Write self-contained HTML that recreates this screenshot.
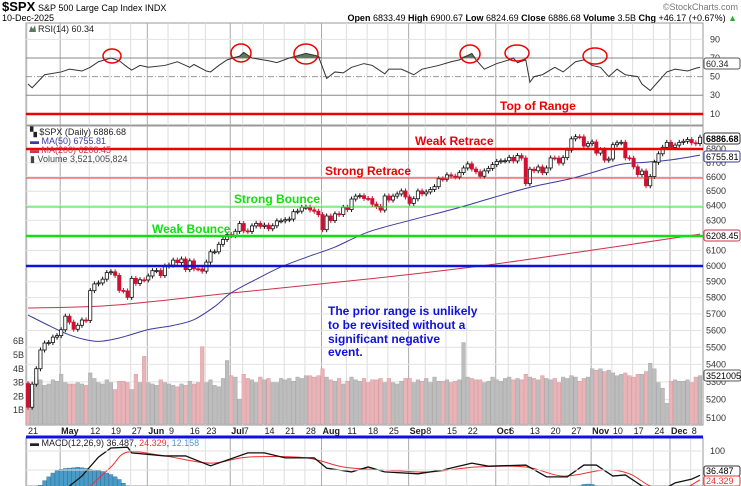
<!DOCTYPE html>
<html><head><meta charset="utf-8"><style>
body{margin:0;background:#fff;}
svg{display:block;font-family:"Liberation Sans",sans-serif;}
</style></head><body>
<svg id="c" width="741" height="486" viewBox="0 0 741 486">
<rect x="0" y="0" width="741" height="486" fill="#fff"/>
<defs><clipPath id="mclip"><rect x="26" y="438" width="677" height="48"/></clipPath></defs>
<g>
<text x="2" y="11" font-size="13" font-weight="bold">$SPX</text>
<text x="38" y="11" font-size="9">S&amp;P 500 Large Cap Index  INDX</text>
<text x="738" y="10" font-size="9" fill="#777" text-anchor="end">©StockCharts.com</text>
<text x="2" y="21" font-size="9">10-Dec-2025</text>
<text x="737" y="21" font-size="9" text-anchor="end"><tspan font-weight="bold">Open</tspan> 6833.49 <tspan font-weight="bold">High</tspan> 6900.67 <tspan font-weight="bold">Low</tspan> 6824.69 <tspan font-weight="bold">Close</tspan> 6886.68 <tspan font-weight="bold">Volume</tspan> 3.5B <tspan font-weight="bold">Chg</tspan> +46.17 (+0.67%) <tspan fill="#3a3">▲</tspan></text>
</g>
<g id="grid"></g>
<g id="rsi"></g>
<g id="main"></g>
<g id="macd" clip-path="url(#mclip)"></g>
<g id="macdax"></g>
<g id="ann"></g>
</svg>
<script>
const closes=[5158,5287,5375,5484,5525,5528,5560,5569,
5604,5686,5650,5607,5631,5663,5660,5844,5886,5892,5916,5958,5963,5940,5845,5842,5802,5921,5889,5912,5911,
5936,5970,5971,5939,6000,6006,6038,6022,6045,5977,6033,5982,5981,5967,6025,6092,6092,6141,6173,6205,
6198,6227,6279,6230,6226,6263,6280,6260,6268,6244,6264,6297,6297,6305,6309,6359,6363,6389,6390,6371,6362,6339,
6238,6330,6299,6345,6340,6389,6374,6446,6466,6469,6450,6449,6411,6395,6370,6467,6439,6466,6481,6502,6460,
6416,6448,6502,6482,6495,6512,6532,6587,6584,6615,6606,6600,6631,6664,6693,6656,6637,6605,6643,6661,6688,
6711,6715,6716,6740,6714,6753,6735,6553,6655,6644,6671,6630,6664,6736,6735,6699,6738,6792,6875,6891,6890,6822,6840,
6852,6771,6796,6720,6728,6832,6846,6850,6737,6734,6672,6617,6642,6538,6603,6705,6766,6813,6849,
6812,6829,6849,6857,6870,6846,6840,6887];
const firstOpen=5290;
const volumes=[3.0,2.6,3.4,3.2,2.8,2.9,3.2,3.1,
3.6,3.0,2.9,2.9,3.0,2.9,2.8,3.7,3.3,3.0,2.9,3.2,3.0,2.5,3.1,3.1,3.0,2.5,3.6,3.0,4.9,
3.0,2.9,2.8,3.2,3.0,2.9,2.8,2.7,2.9,2.8,3.1,2.9,3.0,5.6,3.0,3.2,2.8,2.7,3.3,4.6,
3.5,3.4,1.8,3.6,3.3,3.2,3.0,3.4,3.2,3.3,3.0,3.0,3.3,3.2,3.3,3.1,3.4,3.3,3.5,3.5,3.4,3.5,
4.0,3.4,3.2,3.1,3.3,2.9,3.1,3.4,3.2,3.1,3.3,3.0,3.2,3.2,3.3,3.0,3.3,3.0,2.9,3.1,3.3,
3.3,3.0,3.2,3.1,3.3,3.0,3.4,3.1,3.1,3.2,3.0,3.1,3.2,5.9,3.4,3.3,3.2,3.2,3.0,3.1,3.4,
3.2,3.1,3.3,3.4,3.2,3.3,3.2,3.6,3.4,3.3,3.2,3.5,3.3,3.2,3.3,3.0,3.4,3.3,3.5,3.4,3.1,3.3,3.4,
4.0,3.9,4.0,3.8,3.9,3.7,3.5,3.6,3.7,3.5,3.4,3.6,3.6,3.8,4.4,4.0,3.0,2.6,1.5,
3.1,3.2,3.1,3.1,3.2,3.0,3.4,3.5];
const ma50Idx=[0,5,9,13,17,22,29,35,40,45,49,55,61,68,74,82,92,103,112,121,131,137,143,149,155,162];
const ma50Val=[5693,5630,5583,5550,5535,5555,5605,5630,5665,5745,5830,5915,5994,6065,6123,6222,6300,6380,6455,6527,6589,6640,6690,6705,6722,6756];
const ma200Idx=[0,20,49,82,109,136,162];
const ma200Val=[5736,5752,5829,5917,6000,6103,6208];
const rsiIdx=[0,1,4,8,10,13,15,17,20,22,24,25,27,29,33,36,37,39,40,43,44,46,48,51,52,54,58,60,63,67,70,71,72,74,76,78,81,83,86,87,90,93,95,99,102,104,107,108,110,113,116,117,118,120,121,122,124,127,129,132,134,136,138,140,142,144,147,148,150,152,154,156,159,161,162];
const rsiVal=[42,38,52,55,58,56,60,66,70,67,60,57,62,60,62,66,64,60,63,56,55,62,68,72,76,70,67,65,70,75,72,60,48,55,54,60,64,62,53,58,58,52,58,62,66,68,75,68,58,64,68,70,65,68,44,50,52,60,55,66,68,62,60,50,58,52,50,42,35,45,55,58,56,59,60];
const macdIdx=[10,13,17,20,24,25,33,38,44,53,57,62,69,72,78,82,86,94,100,107,111,120,125,130,134,137,141,144,148,152,156,160,162];
const macdVal=[8,34,84,108,110,95,87,87,61,95,95,82,82,55,45,58,45,40,50,68,60,63,32,32,63,63,34,37,8,-8,16,26,36];
const sigIdx=[15,20,24,33,44,53,67,76,86,97,108,120,129,139,145,150,156,162];
const sigVal=[8,58,97,87,68,84,82,58,50,45,58,58,34,50,40,8,-8,24];
const histIdx=[3,4,5,6,7,8,9,10,11,12,13,14,15,16,17,18,19,20,21,22,23,24,52,53,54,106,107,108,133,134,135,136,137,157,158,159,160,161,162];
const histVal=[10,22,32,42,48,52,54,55,56,57,56,54,52,50,48,46,42,38,32,25,15,8,5,7,5,5,7,5,8,12,13,12,8,5,7,8,9,8,7];
const dateLabels=["21","May","12","19","27","Jun","9","16","23","Jul","7","14","21","28","Aug","11","18","25","Sep","8","15","22","Oct","6","13","20","27","Nov","10","17","24","Dec","8"];
const dateIdx=[0,8,15,20,25,29,34,39,43,49,52,57,62,67,71,77,82,87,92,96,101,106,113,116,121,126,131,136,141,146,151,155,160];
const priceTicks=[5100,5200,5300,5400,5500,5600,5700,5800,5900,6000,6100,6200,6300,6400,6500,6600,6700,6800];
const volTicks=[1,2,3,4,5,6];
const rsiTicks=[10,30,50,70,90];
const macdTicks=[50,100];

const NS="http://www.w3.org/2000/svg";
const L=26,R=703,X0=28,X1=700;
const dx=(X1-X0)/(closes.length-1);
const xs=i=>X0+i*dx;
const yP=p=>266-934*Math.log(p/6000);
const yV=v=>424-13.8*v;
const yR=v=>58+(70-v)*0.93;
const yM=v=>489-0.38*v;
function el(tag,attrs,parent,txt){const e=document.createElementNS(NS,tag);for(const k in attrs)e.setAttribute(k,attrs[k]);if(txt!==undefined)e.textContent=txt;parent.appendChild(e);return e;}
function smooth(pts){let d='M'+pts[0][0]+' '+pts[0][1];for(let i=0;i<pts.length-1;i++){const p0=pts[Math.max(0,i-1)],p1=pts[i],p2=pts[i+1],p3=pts[Math.min(pts.length-1,i+2)];d+=' C'+(p1[0]+(p2[0]-p0[0])/6)+' '+(p1[1]+(p2[1]-p0[1])/6)+' '+(p2[0]-(p3[0]-p1[0])/6)+' '+(p2[1]-(p3[1]-p1[1])/6)+' '+p2[0]+' '+p2[1];}return d;}
const G=document.getElementById('grid'),RS=document.getElementById('rsi'),M=document.getElementById('main'),MC=document.getElementById('macd'),MA=document.getElementById('macdax');

[[23,125],[126,425],[438,486]].forEach((p,k)=>{
 const r=el('rect',{x:L,y:p[0],width:R-L,height:p[1]-p[0],fill:'none',stroke:'#999','stroke-width':1},G);
 
 
});
dateIdx.forEach((d,k)=>{
 const x=xs(d)-1;const month=isNaN(+dateLabels[k]);
 [[23,125],[126,425],[438,486]].forEach(p=>{
  const ln=el('line',{x1:x,x2:x,y1:p[0],y2:p[1],stroke:month?'#aaa':'#ddd','stroke-width':1},G);
  
  
 });
 const t=el('text',{x:x+1,y:434,'font-size':9,'font-weight':month?'bold':'normal',fill:'#222'},G,dateLabels[k]);
 
 
});
priceTicks.forEach(p=>{
 const y=yP(p);
 const ln=el('line',{x1:L,x2:R,y1:y,y2:y,stroke:'#e2e2e2'},G);
 
 
 const t=el('text',{x:706,y:y+3,'font-size':9,fill:'#333'},G,p);
 
 
});
volTicks.forEach(v=>{
 const t=el('text',{x:24,y:yV(v)+3,'font-size':9,fill:'#333','text-anchor':'end'},G,v+'B');
 
 
});
rsiTicks.forEach(v=>{
 const y=yR(v);
 const ln=el('line',{x1:L,x2:R,y1:y,y2:y,stroke:(v==30||v==70)?'#888':(v==50?'#999':'#e2e2e2'),'stroke-dasharray':v==50?'6,2,1,2':'none'},RS);
 
 
 const t=el('text',{x:710,y:y+3,'font-size':9,fill:'#333'},RS,v);
 
 
});
macdTicks.forEach(v=>{
 const y=yM(v);
 const ln=el('line',{x1:L,x2:R,y1:y,y2:y,stroke:'#e2e2e2'},MA);
 
 
 const t=el('text',{x:710,y:y+3,'font-size':9,fill:'#333'},MA,v);
 
 
});

// RSI
let rp=rsiIdx.map((d,k)=>[xs(d),yR(rsiVal[k])]);
const y70=yR(70);
let fillPts=rp.map(p=>p[0]+','+Math.min(p[1],y70)).join(' ');
const rf=el('polygon',{points:xs(rsiIdx[0])+','+y70+' '+fillPts+' '+xs(rsiIdx[rsiIdx.length-1])+','+y70,fill:'#5a7a5a'},RS);


const rl=el('polyline',{points:rp.map(p=>p.join(',')).join(' '),fill:'none',stroke:'#333','stroke-width':1},RS);


const rlab=el('text',{x:38,y:32,'font-size':9,fill:'#222'},RS,'RSI(14) 60.34');


el('path',{d:'M29 32 L31 26 L33 29 L35 25 L36 32Z',fill:'#5a7a5a'},RS);
const rb=el('rect',{x:704,y:58,width:36,height:11,fill:'#fff',stroke:'#555',rx:2},RS);


el('text',{x:706,y:67,'font-size':9,fill:'#222'},RS,'60.34');

// volume
volumes.forEach((v,i)=>{
 const prev=i==0?firstOpen:closes[i-1];
 const down=closes[i]<prev;
 const r=el('rect',{x:xs(i)-1.8,y:yV(v),width:3.6,height:424-yV(v),fill:down?'#e8b4b8':'#bdbdbd',stroke:down?'#d89aa0':'#a8a8a8','stroke-width':0.5},M);
 
 
});
// MAs
const m200=el('path',{d:smooth(ma200Idx.map((d,k)=>[xs(d),yP(ma200Val[k])])),fill:'none',stroke:'#d0304a','stroke-width':1},M);


const m50=el('path',{d:smooth(ma50Idx.map((d,k)=>[xs(d),yP(ma50Val[k])])),fill:'none',stroke:'#3a3aa0','stroke-width':1},M);


// candles
closes.forEach((c,i)=>{
 const o=i==0?firstOpen:closes[i-1];
 const up=c>=o;
 const col=up?'#111':'#d01030';
 const yt=yP(Math.max(o,c)),yb=yP(Math.min(o,c));
 const w=el('line',{x1:xs(i),x2:xs(i),y1:yt-2.5,y2:yb+2.5,stroke:col,'stroke-width':1},M);
 
 
 const b=el('rect',{x:xs(i)-1.6,y:yt,width:3.2,height:Math.max(1,yb-yt),fill:up?'#fff':col,stroke:col,'stroke-width':0.8},M);
 
 
});
// MACD
histIdx.forEach((d,k)=>{
 const r=el('rect',{x:xs(d)-2,y:yM(histVal[k]),width:4,height:489-yM(histVal[k]),fill:'#4a9cc8',stroke:'#2a6a90','stroke-width':0.4},MC);
 
 
});
const sg=el('path',{d:smooth(sigIdx.map((d,k)=>[xs(d),yM(sigVal[k])])),fill:'none',stroke:'#f03030','stroke-width':1},MC);


const ml=el('polyline',{points:macdIdx.map((d,k)=>xs(d)+','+yM(macdVal[k])).join(' '),fill:'none',stroke:'#111','stroke-width':1.3},MC);


</script>
<script>
const S=document.getElementById('c');
const an=document.createElementNS("http://www.w3.org/2000/svg",'g');
an.innerHTML=`
<text x="30" y="446" font-size="9" fill="#222">▬ MACD(12,26,9) 36.487, <tspan fill="#f03030">24.329</tspan>, <tspan fill="#4a9cc8">12.158</tspan></text>
<line x1="26" x2="703" y1="114" y2="114" stroke="#ee0000" stroke-width="2.5"/>
<text x="500" y="110" font-size="12" font-weight="bold" fill="#ee0000">Top of Range</text>
<line x1="26" x2="703" y1="149" y2="149" stroke="#ee0000" stroke-width="2.5"/>
<text x="415" y="145" font-size="12" font-weight="bold" fill="#ee0000">Weak Retrace</text>
<line x1="26" x2="703" y1="178" y2="178" stroke="#ee3030" stroke-width="1"/>
<text x="325" y="175" font-size="12" font-weight="bold" fill="#ee0000">Strong Retrace</text>
<line x1="26" x2="703" y1="207" y2="207" stroke="#30e030" stroke-width="1"/>
<text x="234" y="203" font-size="12" font-weight="bold" fill="#10e010">Strong Bounce</text>
<line x1="26" x2="703" y1="236" y2="236" stroke="#10e010" stroke-width="2.5"/>
<text x="152" y="233" font-size="12" font-weight="bold" fill="#10e010">Weak Bounce</text>
<line x1="26" x2="703" y1="266" y2="266" stroke="#1010e0" stroke-width="2.5"/>
<line x1="26" x2="703" y1="437" y2="437" stroke="#1010e0" stroke-width="3"/>
<g font-size="12" font-weight="bold" fill="#1010e0">
<text x="328" y="315">The prior range is unlikely</text>
<text x="328" y="329">to be revisited without a</text>
<text x="328" y="343">significant negative</text>
<text x="328" y="356">event.</text></g>
<g fill="none" stroke="#ee0000" stroke-width="1.5">
<ellipse cx="112" cy="56" rx="9" ry="7"/><ellipse cx="241" cy="53" rx="10" ry="9"/><ellipse cx="306" cy="54" rx="12" ry="10"/>
<ellipse cx="470" cy="54" rx="10" ry="9"/><ellipse cx="517" cy="53" rx="12" ry="8"/><ellipse cx="595" cy="56" rx="12" ry="8"/></g>
<g font-size="9">
<text x="30" y="135" fill="#222">▚ $SPX (Daily) 6886.68</text>
<text x="30" y="144" fill="#3a3aa0">▬ MA(50) 6755.81</text>
<text x="30" y="153" fill="#d0304a">▬ MA(200) 6208.45</text>
<text x="30" y="162" fill="#444">▮ Volume 3,521,005,824</text></g>
<g font-size="9">
<rect x="704" y="133" width="36" height="11" fill="#fff" stroke="#333" rx="2"/><text x="706" y="142" font-weight="bold">6886.68</text>
<rect x="704" y="151" width="36" height="11" fill="#fff" stroke="#3a3aa0" rx="2"/><text x="706" y="160">6755.81</text>
<rect x="704" y="230" width="36" height="11" fill="#fff" stroke="#d0304a" rx="2"/><text x="706" y="239">6208.45</text>
<rect x="704" y="370" width="37" height="11" fill="#fff" stroke="#555" rx="2"/><text x="706" y="379">3521005</text>
<rect x="704" y="466" width="36" height="10" fill="#fff" stroke="#333" rx="2"/><text x="706" y="474">36.487</text>
<rect x="704" y="476" width="36" height="10" fill="#fff" stroke="#f03030" rx="2"/><text x="706" y="484" fill="#f03030">24.329</text></g>`;


S.appendChild(an);
</script>
</body></html>
